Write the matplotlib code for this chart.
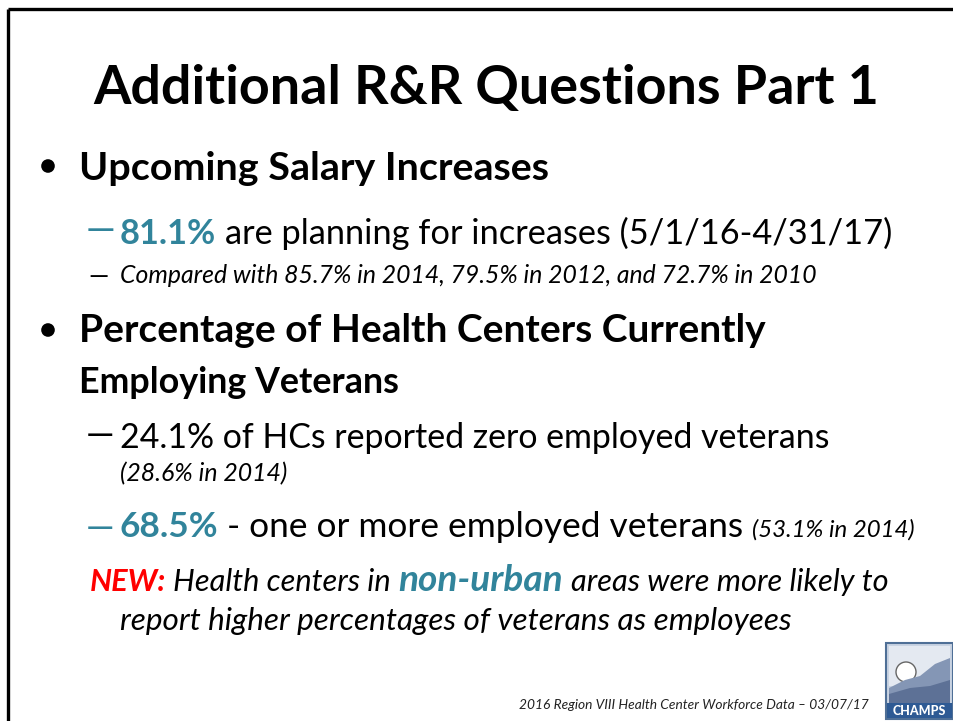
import matplotlib
matplotlib.use("Agg")
import matplotlib.pyplot as plt
from matplotlib.patches import Rectangle, Circle, Polygon
from matplotlib.textpath import TextPath
from matplotlib.font_manager import FontProperties

# ---- slide content ----
title = "Additional R&R Questions Part 1"
bullet1 = "Upcoming Salary Increases"
salary_pct = "81.1%"
salary_text = "are planning for increases (5/1/16-4/31/17)"
salary_compare = "Compared with 85.7% in 2014, 79.5% in 2012, and 72.7% in 2010"
bullet2_l1 = "Percentage of Health Centers Currently"
bullet2_l2 = "Employing Veterans"
zero_text = "24.1% of HCs reported zero employed veterans"
zero_prev = "(28.6% in 2014)"
one_pct = "68.5%"
one_text = "- one or more employed veterans"
one_prev = "(53.1% in 2014)"
new_label = "NEW:"
new_a = "Health centers in"
new_b = "non-urban"
new_c = "areas were more likely to"
new_l2 = "report higher percentages of veterans as employees"
footer = "2016 Region VIII Health Center Workforce Data \u2013 03/07/17"

FAM = ["Lato", "DejaVu Sans"]
TEAL = "#31849B"
RED = "#FF0000"
PX = 100 / 72  # pixels per point

W, H = 954, 721
fig = plt.figure(figsize=(W / 100, H / 100), dpi=100)
ax = fig.add_axes([0, 0, 1, 1])
ax.set_xlim(0, W)
ax.set_ylim(H, 0)
ax.axis("off")
renderer = fig.canvas.get_renderer()


def width(s, size, **kw):
    t = ax.text(0, 0, s, fontsize=size, family=FAM, **kw)
    w = t.get_window_extent(renderer).width
    t.remove()
    return w


def line(x, y, parts, target):
    """parts: list of (text, kwargs, relsize, gap_spaces)"""
    def layout(size):
        pos = []
        cur = x
        for i, (s, kw, rel, gap) in enumerate(parts):
            if i > 0 and gap:
                pkw, prel = parts[i - 1][1], parts[i - 1][2]
                sw = width("n n", size * prel, **pkw) - width("nn", size * prel, **pkw)
                cur += sw * gap
            pos.append(cur)
            cur += width(s, size * rel, **kw)
        return pos, cur - x

    base = 20.0
    _, w0 = layout(base)
    size = base * target / w0
    pos, _ = layout(size)
    for (s, kw, rel, gap), px in zip(parts, pos):
        ax.text(px, y, s, fontsize=size * rel, family=FAM, va="baseline",
                ha="left", **kw)
    return size


DASH = "\u2014"
_ext = TextPath((0, 0), DASH, size=10, prop=FontProperties(family="Lato")).get_extents()


def dash(x, ymid, wpx, color):
    # size so that the ink of the dash spans wpx pixels
    size = 10 * wpx / (_ext.width * PX)
    k = size / 10
    xl = x - _ext.x0 * k * PX
    ink_mid = (_ext.y0 + _ext.y1) / 2 * k * PX
    ax.text(xl, ymid + ink_mid, DASH, fontsize=size, family=FAM, color=color,
            va="baseline", ha="left")


B = dict(fontweight="bold", color="black")
N = dict(color="black")
I = dict(fontstyle="italic", color="black")

# frame
ax.plot([8, W + 5], [9, 9], color="black", lw=2.4, solid_capstyle="butt")
ax.plot([8, 8], [9, H + 5], color="black", lw=2.4, solid_capstyle="butt")

# title
line(93, 104, [(title, B, 1, 0)], 787)

# bullets
for yb in (166, 330):
    ax.add_patch(Circle((48, yb), 6.8, facecolor="black", edgecolor="none"))

line(79, 180, [(bullet1, B, 1, 0)], 469)

# salary line
dash(88, 229.5, 25, TEAL)
line(120, 244, [(salary_pct, dict(fontweight="bold", color=TEAL), 1, 0),
                (salary_text, N, 1, 1)], 773)

dash(90, 276, 17, "black")
line(120, 283, [(salary_compare, I, 1, 0)], 698)

line(79, 342, [(bullet2_l1, B, 1, 0)], 686)
line(79, 393, [(bullet2_l2, B, 1, 0)], 321)

dash(88, 435.5, 24, "black")
line(120, 448, [(zero_text, N, 1, 0)], 710)
line(120, 481, [(zero_prev, I, 1, 0)], 168)

dash(88, 528.5, 24, TEAL)
line(120, 537, [(one_pct, dict(fontweight="bold", color=TEAL), 1, 0),
                (one_text, N, 1, 1),
                (one_prev, I, 0.68, 1)], 796)

line(90, 591, [(new_label, dict(fontweight="bold", fontstyle="italic", color=RED), 1, 0),
               (new_a, I, 1, 1),
               (new_b, dict(fontweight="bold", fontstyle="italic", color=TEAL), 1.2, 1),
               (new_c, I, 1, 1)], 798)
line(120, 630, [(new_l2, I, 1, 0)], 670)

line(519, 709, [(footer, dict(fontstyle="italic", color="#222222"), 1, 0)], 350)

# logo
x0, y0, x1, y1 = 886, 643, 953, 719
ax.add_patch(Rectangle((x0, y0), x1 - x0, y1 - y0, facecolor="#c9d3e2",
                       edgecolor="#4f6f96", lw=1.5))
ax.add_patch(Rectangle((x0 + 3, y0 + 3), x1 - x0 - 6, 40, facecolor="#e4e9f1",
                       edgecolor="none"))
ax.add_patch(Circle((906, 672), 10, facecolor="white", edgecolor="#666666", lw=1))
ax.add_patch(Polygon([(889, 688), (905, 680), (920, 676), (935, 664), (950, 658),
                      (950, 702), (889, 702)], closed=True,
                     facecolor="#8496b5", edgecolor="none"))
ax.add_patch(Polygon([(889, 694), (910, 688), (930, 686), (950, 680),
                      (950, 704), (889, 704)], closed=True,
                     facecolor="#5d7196", edgecolor="none"))
ax.add_patch(Rectangle((x0 + 1, 703), x1 - x0 - 2, 15, facecolor="#2e5a94",
                       edgecolor="none"))
ax.text((x0 + x1) / 2, 711, "CHAMPS", fontsize=9, family=FAM, fontweight="black",
        color="white", ha="center", va="center")

fig.savefig("out.png", dpi=100)
